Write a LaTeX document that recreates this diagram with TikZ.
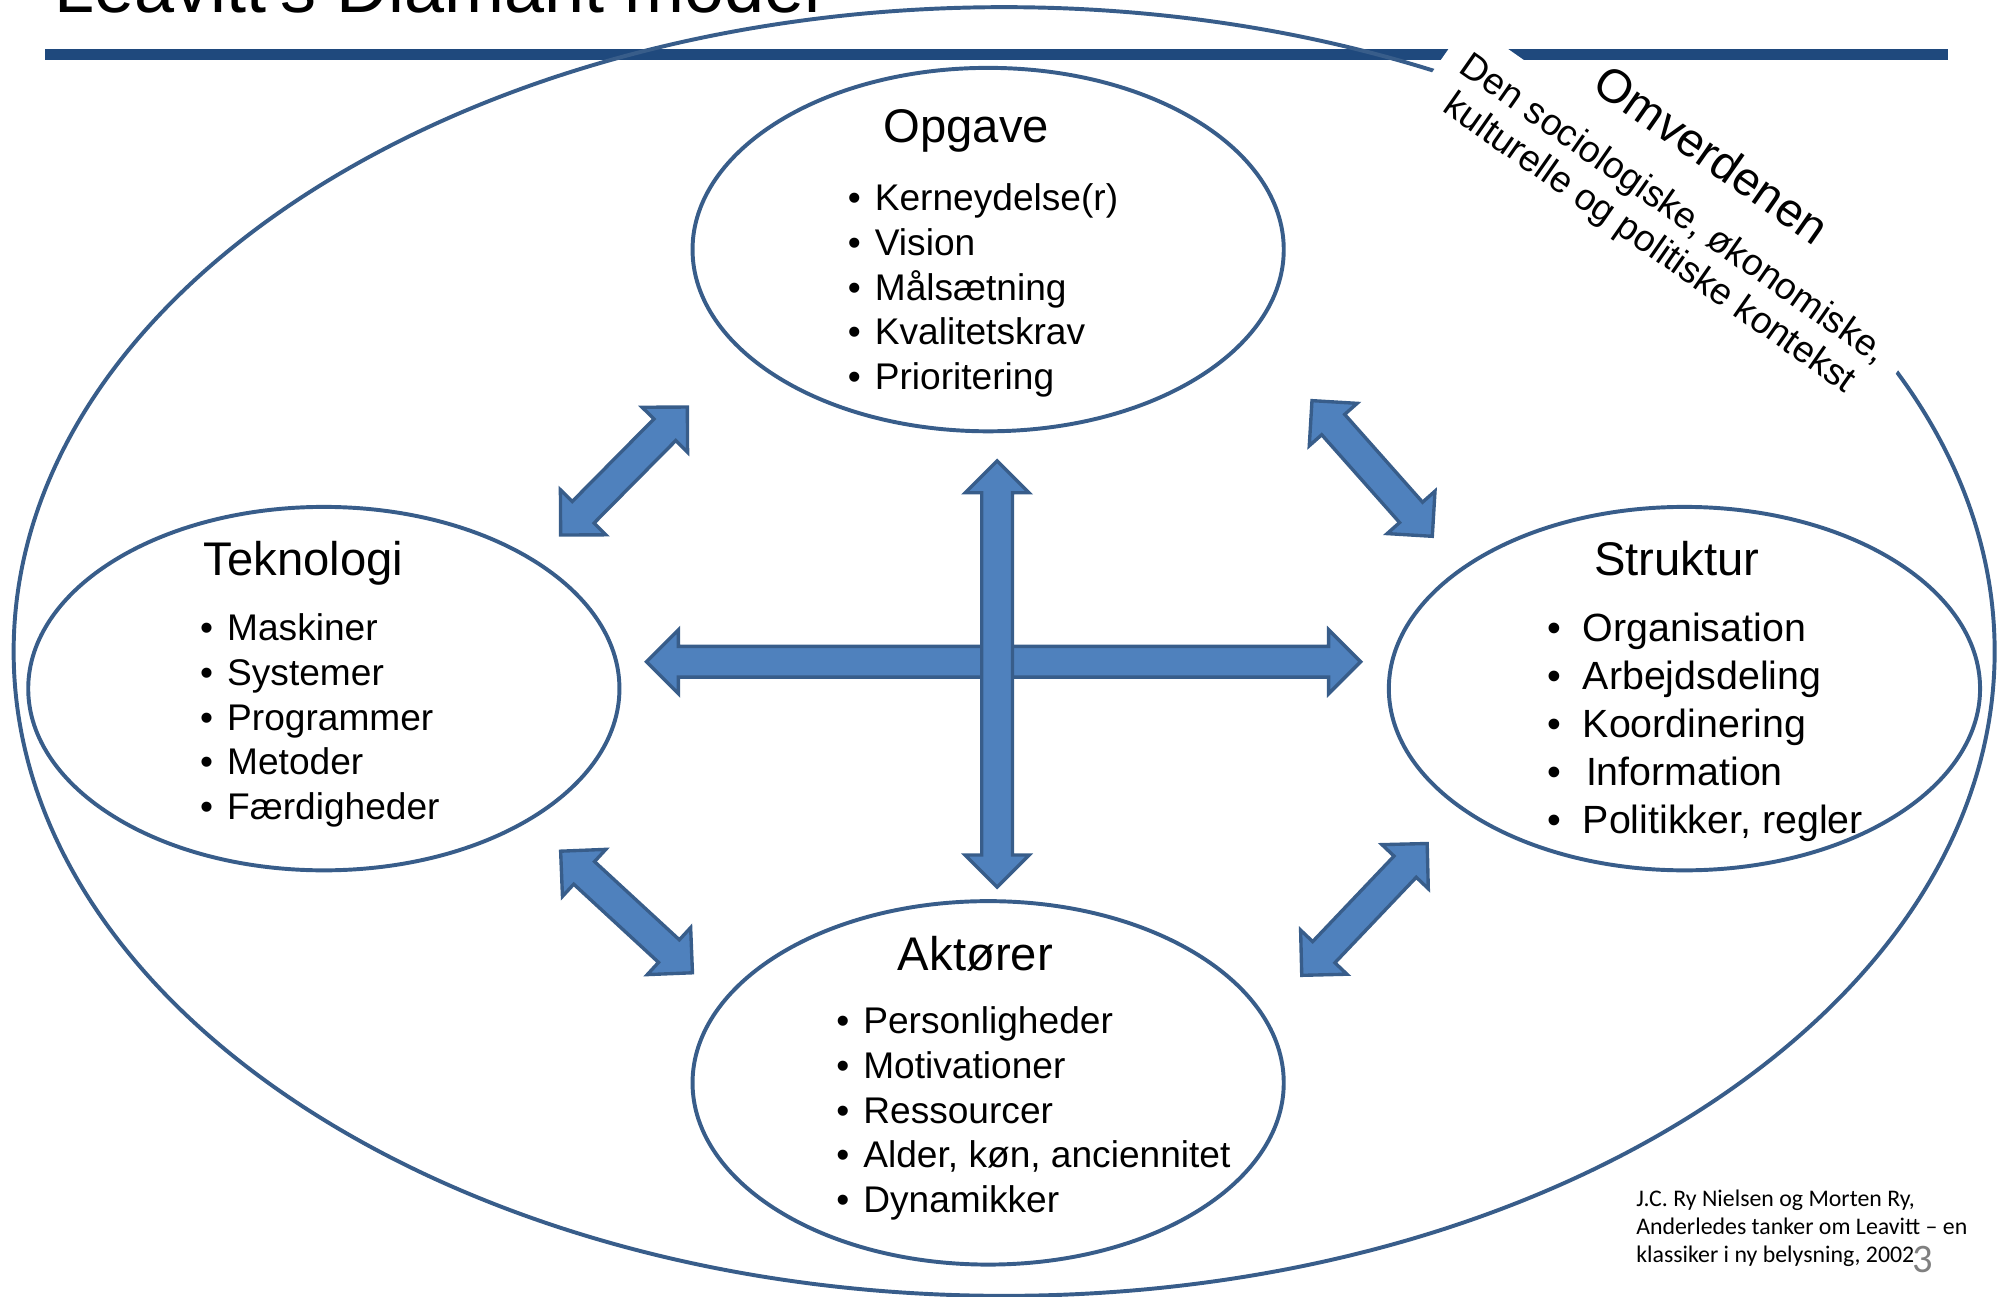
\documentclass[tikz,border=0pt]{standalone}
\usepackage{fontspec}
\setmainfont{Liberation Sans}
\newfontfamily\calibri{Carlito}
\usetikzlibrary{shapes.geometric,calc}

\definecolor{ringblue}{HTML}{385D8A}
\definecolor{arrowblue}{HTML}{4F81BD}
\definecolor{barblue}{HTML}{1F497D}

\newcommand\bl{\textbullet\hspace{0.22cm}}
\newcommand\blockarrow[2]{%
  \coordinate (ba1) at ($(#1)!0.5cm!(#2)$);
  \coordinate (ba2) at ($(#2)!0.5cm!(#1)$);
  \filldraw[arrowbody] (#1) -- ($(ba1)!0.5cm!90:(#2)$) -- ($(ba1)!0.24cm!90:(#2)$)
    -- ($(ba2)!0.24cm!-90:(#1)$) -- ($(ba2)!0.5cm!-90:(#1)$) -- (#2)
    -- ($(ba2)!0.5cm!90:(#1)$) -- ($(ba2)!0.24cm!90:(#1)$)
    -- ($(ba1)!0.24cm!-90:(#2)$) -- ($(ba1)!0.5cm!-90:(#2)$) -- cycle;}

\begin{document}
\begin{tikzpicture}[x=0.02cm,y=0.02cm,
  ring/.style={ellipse,draw=ringblue,line width=1.75pt,minimum width=9.24cm,minimum height=5.68cm,inner sep=0},
  heading/.style={font=\fontsize{21}{25}\selectfont,anchor=base,inner sep=0},
  items/.style={font=\fontsize{16.5}{19.9}\selectfont,align=left,anchor=west,inner sep=0},
  arrowbody/.style={fill=arrowblue,draw=ringblue,line width=1.5pt}]
\useasboundingbox (0,0) rectangle (1568,-1013);

\node[anchor=base west,inner sep=0,font=\fontsize{32}{38}\selectfont] (title) at (42,-10) {Leavitt's Diamant model};
\fill[barblue] (35,-38) rectangle (1522,-47);
\node[ellipse,draw=ringblue,line width=1.75pt,minimum width=30.96cm,minimum height=20.14cm] (omverden) at (784.5,-509) {};

\node[fill=white,inner sep=0.32cm,rotate=-35,align=center,font=\fontsize{16.5}{18.5}\selectfont] (kontekst) at (1297.5,-177.7) {Den sociologiske, økonomiske,\\kulturelle og politiske kontekst};
\node[rotate=-35,anchor=south,inner sep=0,font=\fontsize{21}{25}\selectfont] (omverdenen) at ($(kontekst.north)!-0.2cm!(kontekst.center)$) {Omverdenen};

\node[ring] (opgave) at (772,-195) {};
\node[ring] (teknologi) at (253,-538) {};
\node[ring] (struktur) at (1316,-538) {};
\node[ring] (aktorer) at (772,-846) {};

\node[heading] (opgave-h) at (755,-111) {Opgave};
\node[heading] (teknologi-h) at (237,-450) {Teknologi};
\node[heading] (struktur-h) at (1310,-450) {Struktur};
\node[heading] (aktorer-h) at (762,-758) {Aktører};

\node[items] (opgave-l) at (662,-227) {\bl Kerneydelse(r)\\\bl Vision\\\bl Målsætning\\\bl Kvalitetskrav\\\bl Prioritering};
\node[items] (teknologi-l) at (156,-563) {\bl Maskiner\\\bl Systemer\\\bl Programmer\\\bl Metoder\\\bl Færdigheder};
\node[items,font=\fontsize{17.5}{21.3}\selectfont] (struktur-l) at (1209,-568) {\bl\hspace{0.11cm}Organisation\\\bl\hspace{0.11cm}Arbejdsdeling\\\bl\hspace{0.11cm}Koordinering\\\bl\hspace{0.16cm}Information\\\bl\hspace{0.11cm}Politikker, regler};
\node[items] (aktorer-l) at (653,-870) {\bl Personligheder\\\bl Motivationer\\\bl Ressourcer\\\bl Alder, køn, anciennitet\\\bl Dynamikker};

\coordinate (tv) at (779,-360);
\coordinate (av) at (779,-693);
\coordinate (th) at (505,-517);
\coordinate (sh) at (1063,-517);
\coordinate (to1) at (438,-418);
\coordinate (to2) at (537,-318);
\coordinate (os1) at (1025,-313);
\coordinate (os2) at (1119,-419);
\coordinate (ta1) at (438,-665);
\coordinate (ta2) at (541,-760);
\coordinate (sa1) at (1115,-659);
\coordinate (sa2) at (1017,-762);
\blockarrow{to1}{to2}
\blockarrow{os1}{os2}
\blockarrow{ta1}{ta2}
\blockarrow{sa1}{sa2}
\blockarrow{th}{sh}
\blockarrow{tv}{av}

\node[anchor=north west,inner sep=0,align=left,font=\calibri\fontsize{10.6}{12.5}\selectfont] (kilde) at (1278,-929) {J.C. Ry Nielsen og Morten Ry,\\Anderledes tanker om Leavitt – en\\klassiker i ny belysning, 2002};
\node[anchor=base west,inner sep=0,text=gray,font=\calibri\fontsize{18}{20}\selectfont] (side) at (1494,-994) {3};
\end{tikzpicture}
\end{document}
